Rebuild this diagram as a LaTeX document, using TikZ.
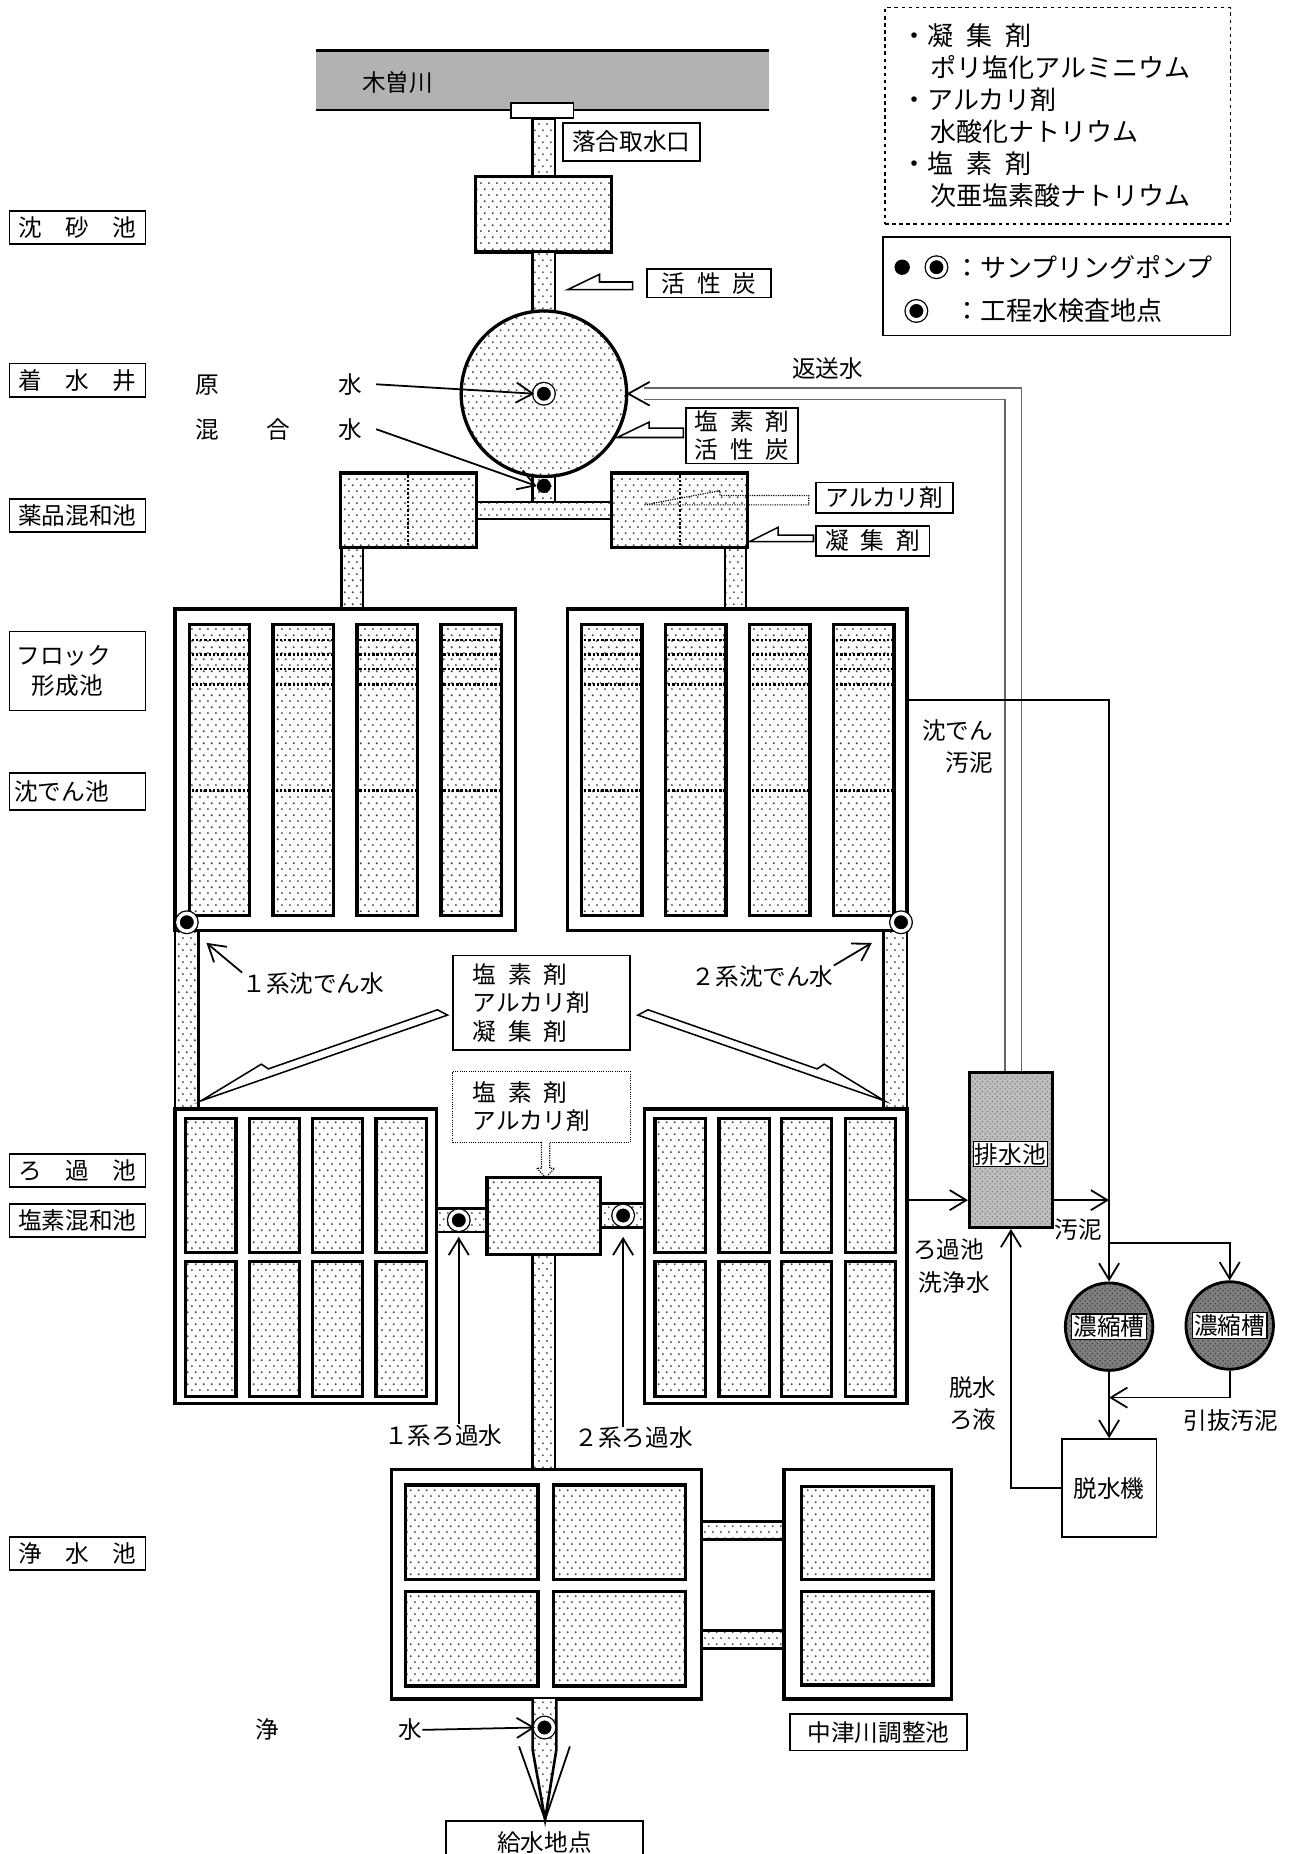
\documentclass[tikz,border=0pt]{standalone}
\usepackage{fontspec}
\setmainfont{Noto Sans CJK JP}
\usetikzlibrary{arrows.meta,positioning,patterns}

\newcommand{\nodefont}{\fontsize{20}{24}\selectfont}
\newcommand{\keyfont}{\fontsize{22}{27}\selectfont}
\newcommand{\jsp}{\hspace{0.5em}}
\newcommand{\spreadtext}[2]{\makebox[#1][s]{#2}}

\pgfdeclarepatternformonly{waterdots}{\pgfqpoint{0pt}{0pt}}{\pgfqpoint{7pt}{10pt}}{\pgfqpoint{7pt}{10pt}}{%
  \pgfpathcircle{\pgfqpoint{1.75pt}{2.5pt}}{0.95pt}%
  \pgfpathcircle{\pgfqpoint{5.25pt}{7.5pt}}{0.95pt}%
  \pgfusepath{fill}%
}
\pgfdeclarepatternformonly{finedots}{\pgfqpoint{0pt}{0pt}}{\pgfqpoint{4pt}{4pt}}{\pgfqpoint{4pt}{4pt}}{%
  \pgfpathcircle{\pgfqpoint{1pt}{1pt}}{0.7pt}%
  \pgfpathcircle{\pgfqpoint{3pt}{3pt}}{0.7pt}%
  \pgfusepath{fill}%
}

\tikzset{
  basin/.style={draw=black, line width=2.8pt, fill=white},
  tank/.style={draw=black, line width=2.8pt, preaction={fill=white}, pattern=waterdots, pattern color=black!70},
  pipe/.style={draw=black, line width=2.2pt, preaction={fill=white}, pattern=waterdots, pattern color=black!70},
  well/.style={circle, draw=black, line width=2.8pt, minimum size=140, preaction={fill=white}, pattern=waterdots, pattern color=black!70},
  stagebox/.style={draw=black, line width=1.4pt, minimum width=115, minimum height=28},
  tagbox/.style={draw=black, line width=1.3pt},
  conn/.style={line width=1.5pt},
  retline/.style={draw=black!60, line width=1.2pt},
  divider/.style={line width=2pt, dash pattern=on 2pt off 1.6pt},
  injflag/.style={draw=black, line width=1.3pt, fill=white, line join=miter},
  injdot/.style={draw=black, line width=1pt, densely dotted},
  sampring/.style={circle, draw=black, fill=black, double=white, double distance=3pt, line width=1.1pt, minimum size=15},
  sampdot/.style={circle, fill=black, minimum size=12},
  thickener/.style={circle, draw=black, line width=2.4pt, preaction={fill=black!50}, pattern=finedots, pattern color=black!75, minimum size=74},
  thklabel/.style={draw=black, line width=1pt, fill=white, inner sep=1.5pt},
  drainpond/.style={draw=black, line width=2.8pt, preaction={fill=black!25}, pattern=finedots, pattern color=black!50, minimum width=70, minimum height=131}
}

\begin{document}
\begin{tikzpicture}[x=1pt, y=-1pt, font=\nodefont, inner sep=0pt, >={Straight Barb[length=14pt,width=17pt]}]
  \useasboundingbox (0,0) rectangle (1092,1568);
  \fill[white] (0,0) rectangle (1092,1568);

  % River and intake
  \fill[black!30] (267,43) rectangle (650,93);
  \draw[line width=2.4pt] (267,43) -- (650,43) (267,93) -- (650,93);
  \node[anchor=west] (river) at (306,70) {木曽川};
  \draw[pipe] (450.5,100) rectangle (469.5,149);
  \node[draw=black, line width=1.6pt, fill=white, minimum width=53, minimum height=13] (intake) at (458.5,93.5) {};
  \node[tagbox, minimum width=116, minimum height=32] (tag-intake) at (534,120) {落合取水口};

  % Sand basin
  \draw[tank] (402,149) rectangle (517,213);
  \draw[pipe] (450.5,213) rectangle (469.5,270);
  \draw[injflag, shift={(480,245)}] (0,0) -- (27,-13) -- (27,-6.5) -- (55,-6.5) -- (55,0) -- cycle;
  \node[tagbox, minimum width=105, minimum height=24] (tag-carbon) at (599.5,239.5) {活\jsp 性\jsp 炭};

  % Receiving well
  \draw[pipe] (450.5,395) rectangle (469.5,424.5);
  \node[well] (well) at (460,333) {};
  \node[sampring] (sp-raw) at (460,333) {};
  \node[sampdot] (sp-mix) at (460,411) {};
  \node[inner sep=0pt] (lbl-raw) at (235.5,325) {\spreadtext{141pt}{原\hfill 水}};
  \node[inner sep=0pt] (lbl-mix) at (235.5,363) {\spreadtext{141pt}{混\hfill 合\hfill 水}};
  \draw[conn, ->] ([xshift=12]lbl-raw.east) -- (sp-raw.west);
  \draw[conn, ->] ([xshift=12]lbl-mix.east) -- (sp-mix.west);
  \draw[injflag, shift={(522,370)}] (0,0) -- (27,-13) -- (27,-8) -- (56,-8) -- (56,0) -- cycle;
  \node[tagbox, minimum width=95, minimum height=47, align=center] (tag-chlor) at (627.5,368.5) {塩\jsp 素\jsp 剤\\活\jsp 性\jsp 炭};
  \node (lbl-return) at (700,312) {返送水};

  % Chemical mixing basins
  \draw[pipe] (403,424.5) rectangle (517,439);
  \draw[tank] (288,400) rectangle (403,463);
  \draw[tank] (517,400) rectangle (632,463);
  \draw[divider] (345,402) -- (345,461);
  \draw[divider] (575,402) -- (575,461);
  \draw[injdot] (545,427) -- (609,415) -- (609,419) -- (684,419) -- (684,427) -- cycle;
  \node[tagbox, minimum width=116, minimum height=26] (tag-alkali) at (748,421) {アルカリ剤};
  \draw[injflag] (634,458) -- (658,446) -- (658,452.5) -- (688,452.5) -- (688,458) -- cycle;
  \node[tagbox, minimum width=96, minimum height=25] (tag-coag) at (738,457.5) {凝\jsp 集\jsp 剤};
  \draw[pipe] (289,463) rectangle (307,515);
  \draw[pipe] (613,463) rectangle (631,515);

  % Flocculation and sedimentation basins
  \node[basin, minimum width=288, minimum height=272] (sedL) at (292,651) {};
  \node[basin, minimum width=287, minimum height=272] (sedR) at (623.5,651) {};
  \foreach \ox in {148,480} {
    \foreach \dx in {12,83,154,225} {
      \draw[tank] (\ox+\dx,528) rectangle (\ox+\dx+51,774);
      \foreach \ly in {541,553.5,566,579,668.5}
        \draw[divider] (\ox+\dx+2,\ly) -- (\ox+\dx+49,\ly);
    }
  }
  \draw[pipe] (148,787) rectangle (168,938);
  \draw[pipe] (747,787) rectangle (767,938);
  \node[sampring] (sp-sed1) at (158,780) {};
  \node[sampring] (sp-sed2) at (762,780) {};

  % Chemicals before filtration
  \node[tagbox, minimum height=80, text width=116, inner xsep=17, align=left] (tag-mid) at (458,848) {塩\jsp 素\jsp 剤\\アルカリ剤\\凝\jsp 集\jsp 剤};
  \node[draw=black, line width=0.9pt, densely dotted, minimum height=60, text width=116, inner xsep=17, align=left] (tag-mid2) at (458,936) {塩\jsp 素\jsp 剤\\アルカリ剤};
  \draw[injflag] (170,931) -- (221,900) -- (227,904) -- (370,854) -- (378.5,858.5) -- cycle;
  \draw[injflag] (748,931) -- (697,900) -- (691,904) -- (548,854) -- (539.5,858.5) -- cycle;
  \draw[injdot, fill=white] (458,966) -- (458,988) -- (454,988) -- (461.5,996) -- (469,988) -- (465,988) -- (465,966);
  \node (lbl-s1) at (265,832) {１系沈でん水};
  \node (lbl-s2) at (645,826) {２系沈でん水};
  \draw[conn, ->] (lbl-s1.north west) -- ([shift={(28,9)}]sedL.south west);
  \draw[conn, ->] (lbl-s2.north east) -- ([shift={(-31,9)}]sedR.south east);

  % Filters and chlorine mixing basin
  \draw[pipe] (450.5,1061) rectangle (469.5,1243);
  \draw[pipe] (367,1022) rectangle (412,1042);
  \draw[pipe] (508,1018) rectangle (545,1038);
  \node[basin, minimum width=221, minimum height=249] (filtL) at (258.5,1062.5) {};
  \node[basin, minimum width=222, minimum height=249] (filtR) at (656,1062.5) {};
  \foreach \ox in {148,545}
    \foreach \dx in {9,63,116,170}
      \foreach \ry/\rh in {946/1059,1067/1181}
        \draw[tank] (\ox+\dx,\ry) rectangle (\ox+\dx+42.5,\rh);
  \draw[tank] (412,996) rectangle (508,1061);
  \node[sampring] (sp-f1) at (388,1032) {};
  \node[sampring] (sp-f2) at (527,1028) {};
  \node (lbl-f1) at (375,1214) {１系ろ過水};
  \node (lbl-f2) at (536,1216) {２系ろ過水};
  \draw[conn, ->] (lbl-f1.north -| sp-f1) -- ([shift={(0,6)}]sp-f1.south);
  \draw[conn, ->] (lbl-f2.north -| sp-f2) -- ([shift={(0,10)}]sp-f2.south);

  % Clear water basins
  \draw[pipe] (593,1287) rectangle (663,1302);
  \draw[pipe] (593,1379) rectangle (663,1394);
  \node[basin, minimum width=262, minimum height=194] (clearpond) at (462,1340) {};
  \node[basin, minimum width=142, minimum height=194] (nakatsu) at (734,1340) {};
  \foreach \bx/\by in {343/1256,468/1256,343/1346,468/1346}
    \draw[tank] (\bx,\by) rectangle (\bx+112,\by+80);
  \foreach \by in {1257,1346}
    \draw[tank] (678,\by) rectangle (789,\by+79);
  \node[tagbox, minimum width=150, minimum height=31] (tag-nakatsu) at (743,1465) {中津川調整池};

  % Outlet
  \draw[pipe] (450.5,1437) -- (450.5,1480) -- (461,1539) -- (470.5,1480) -- (470.5,1437);
  \node[sampring] (sp-out) at (460.5,1461) {};
  \node[inner sep=0pt] (lbl-clean) at (286.5,1463) {\spreadtext{141pt}{浄\hfill 水}};
  \draw[conn, ->] (lbl-clean.east) -- (sp-out.west);
  \coordinate (supply-tip) at (461,1539);
  \draw[conn] (439,1477) -- (supply-tip) -- (482,1477);
  \node[tagbox, minimum width=167, minimum height=36] (tag-supply) at (460.5,1558) {給水地点};

  % Sludge treatment
  \node[drainpond] (drain) at (855,972.5) {};
  \node[thklabel] (drain-lbl) at (854.5,976) {排水池};
  \node[thickener] (thk1) at (938,1122) {};
  \node[thklabel] (thk1-lbl) at (thk1) {濃縮槽};
  \node[thickener] (thk2) at (1040,1121) {};
  \node[thklabel] (thk2-lbl) at (thk2) {濃縮槽};
  \node[tagbox, minimum width=80, minimum height=83] (dewater) at (938,1258.5) {脱水機};

  % Return water
  \coordinate (ret-a) at (545,328);
  \coordinate (ret-b) at (545,338);
  \draw[retline] ([xshift=9]drain.north) |- (ret-a);
  \draw[retline] ([xshift=-5]drain.north) |- (ret-b);
  \draw[conn] ([shift={(18,-10)}]well.east) -- (well.east) -- ([shift={(18,10)}]well.east);

  % Sludge lines
  \coordinate (sludge-turn) at (938,592);
  \coordinate (sludge-split) at (938,1051);
  \coordinate (wash) at (0,1015);
  \draw[conn, ->] (sedR.east |- sludge-turn) -- (sludge-turn) -- (thk1.north);
  \draw[conn, ->] (filtR.east |- wash) -- (drain.west |- wash);
  \draw[conn, ->] (drain.east |- wash) -- (sludge-turn |- wash);
  \draw[conn, ->] (sludge-split) -| (thk2.north);
  \draw[conn, ->] (thk1.south) -- (dewater.north);
  \draw[conn, ->] (thk2.south) |- (thk1.south |- 0,1182);
  \draw[conn, ->] (dewater.west) -| (drain.south);
  \node[anchor=east, align=right] (lbl-sedsludge) at (840,631) {沈でん\\[3pt]汚泥};
  \node (lbl-sludge) at (912,1040) {汚泥};
  \node[anchor=west, align=left] (lbl-wash) at (772,1071) {ろ過池\\[4pt]\hspace*{5pt}洗浄水};
  \node[anchor=east, align=right] (lbl-filtrate) at (843,1187) {脱水\\[3pt]ろ液};
  \node (lbl-pulled) at (1041,1201) {引抜汚泥};

  % Stage labels
  \node[stagebox] (st-sand) at (65.5,192.5) {沈　砂　池};
  \node[stagebox] (st-well) at (65.5,321.5) {着　水　井};
  \node[stagebox] (st-mix) at (65.5,436) {薬品混和池};
  \node[stagebox, minimum height=67, text width=103, inner xsep=6, align=left] (st-floc) at (65.5,567.5) {フロック\\[2pt]\hspace*{13pt}形成池};
  \node[stagebox, minimum height=31, text width=107, inner xsep=4, align=left] (st-sed) at (65.5,669.5) {沈でん池};
  \node[stagebox] (st-filter) at (65.5,990) {ろ　過　池};
  \node[stagebox] (st-chlor) at (65.5,1032) {塩素混和池};
  \node[stagebox] (st-clear) at (65.5,1314) {浄　水　池};

  % Legend
  \node[draw=black, line width=1pt, dashed, minimum width=292, minimum height=183, anchor=north west, text width=264, inner xsep=14, align=left, font=\keyfont] (key-chem) at (748,6) {・凝\jsp 集\jsp 剤\\\hspace*{1.1em}ポリ塩化アルミニウム\\・アルカリ剤\\\hspace*{1.1em}水酸化ナトリウム\\・塩\jsp 素\jsp 剤\\\hspace*{1.1em}次亜塩素酸ナトリウム};
  \node[draw=black, line width=1.3pt, minimum width=294, minimum height=83, anchor=north west] (key-box) at (746,200) {};
  \node[sampdot, minimum size=13] (key-dot) at (763,226) {};
  \node[sampring] (key-ring1) at (792,226) {};
  \node[sampring] (key-ring2) at (775,263) {};
  \node[anchor=west, font=\keyfont] (key-pump) at (807,226) {：サンプリングポンプ};
  \node[anchor=west, font=\keyfont] (key-check) at (807,263) {：工程水検査地点};
\end{tikzpicture}
\end{document}
